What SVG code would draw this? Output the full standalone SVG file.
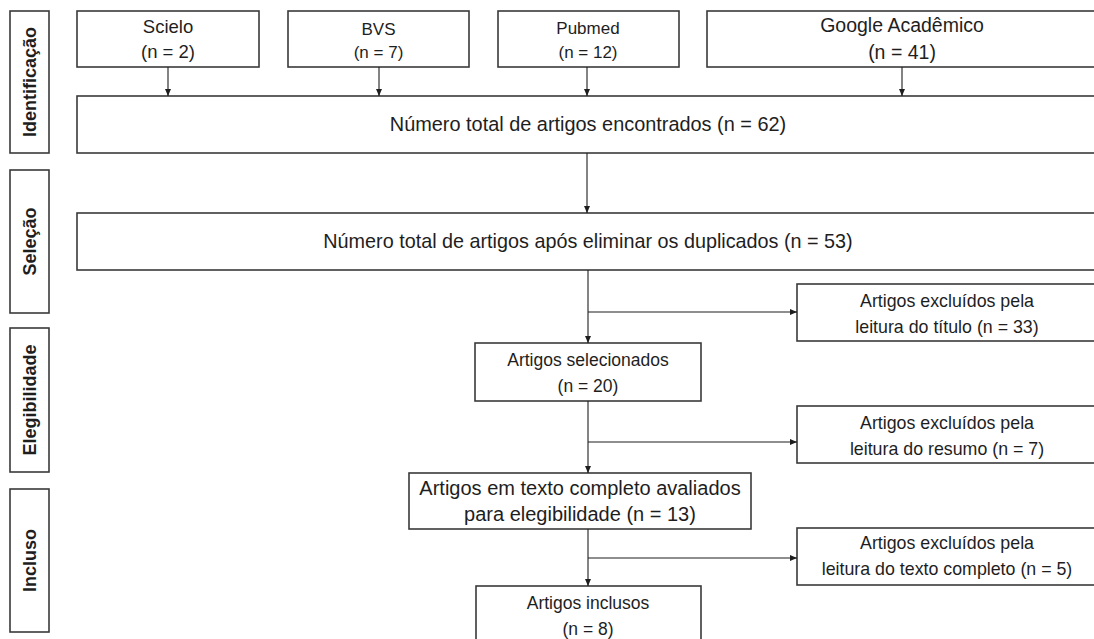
<svg xmlns="http://www.w3.org/2000/svg" width="1094" height="639" viewBox="0 0 1094 639">
<style>
.box{fill:#fff;stroke:#3a3a3a;stroke-width:1.6}
.t{font-family:"Liberation Sans",Arial,sans-serif;fill:#1e1e1e;text-anchor:middle}
.lbl{font-family:"Liberation Sans",Arial,sans-serif;font-weight:bold;fill:#1e1e1e;text-anchor:middle;font-size:18px}
.c{stroke:#1e1e1e;stroke-width:1.1;fill:none}
</style>
<defs>
<marker id="ah" markerWidth="7" markerHeight="6" refX="7" refY="3" orient="auto" markerUnits="userSpaceOnUse">
<path d="M0,0 L7,3 L0,6 z" fill="#1e1e1e"/>
</marker>
</defs>
<rect width="1094" height="639" fill="#fff"/>

<g id="phase-identificacao"><rect class="box" x="10" y="11" width="39" height="142"/><text class="lbl" transform="translate(36,82) rotate(-90)">Identificação</text></g>
<g id="phase-selecao"><rect class="box" x="10" y="170" width="39" height="143"/><text class="lbl" transform="translate(36,241.5) rotate(-90)">Seleção</text></g>
<g id="phase-elegibilidade"><rect class="box" x="10" y="328" width="39" height="144"/><text class="lbl" transform="translate(36,400) rotate(-90)">Elegibilidade</text></g>
<g id="phase-incluso"><rect class="box" x="10" y="489" width="39" height="143"/><text class="lbl" transform="translate(36,560.5) rotate(-90)">Incluso</text></g>

<g id="scielo"><rect class="box" x="77" y="11" width="182" height="56"/><text class="t" font-size="18.5" x="168" y="33">Scielo</text><text class="t" font-size="18.5" x="168" y="58">(n = 2)</text></g>
<g id="bvs"><rect class="box" x="288" y="11" width="181" height="56"/><text class="t" font-size="17" x="378.5" y="35">BVS</text><text class="t" font-size="17" x="378.5" y="58">(n = 7)</text></g>
<g id="pubmed"><rect class="box" x="498" y="11" width="181" height="56"/><text class="t" font-size="17" x="588" y="34">Pubmed</text><text class="t" font-size="17" x="588" y="58">(n = 12)</text></g>
<g id="google"><rect class="box" x="707" y="11" width="390" height="56"/><text class="t" font-size="19.5" x="902" y="32">Google Acadêmico</text><text class="t" font-size="19.5" x="902" y="59">(n = 41)</text></g>

<g id="total"><rect class="box" x="77" y="96" width="1100" height="57"/><text class="t" font-size="19.9" x="588" y="131">Número total de artigos encontrados (n = 62)</text></g>
<g id="sem-duplicados"><rect class="box" x="77" y="213" width="1100" height="57"/><text class="t" font-size="19.8" x="588" y="248">Número total de artigos após eliminar os duplicados (n = 53)</text></g>

<g id="excl-titulo"><rect class="box" x="797" y="284" width="400" height="57"/><text class="t" font-size="17.8" x="947" y="306.5">Artigos excluídos pela</text><text class="t" font-size="17.8" x="947" y="332.5">leitura do título (n = 33)</text></g>
<g id="selecionados"><rect class="box" x="475" y="343" width="226" height="58"/><text class="t" font-size="17.5" x="588" y="366">Artigos selecionados</text><text class="t" font-size="17.5" x="588" y="392">(n = 20)</text></g>
<g id="excl-resumo"><rect class="box" x="797" y="406" width="400" height="57"/><text class="t" font-size="17.8" x="947" y="429">Artigos excluídos pela</text><text class="t" font-size="17.8" x="947" y="455">leitura do resumo (n = 7)</text></g>
<g id="texto-completo"><rect class="box" x="409" y="473" width="342" height="56"/><text class="t" font-size="20" x="580" y="495">Artigos em texto completo avaliados</text><text class="t" font-size="20" x="580" y="521">para elegibilidade (n = 13)</text></g>
<g id="excl-texto"><rect class="box" x="797" y="528" width="400" height="57"/><text class="t" font-size="17.8" x="947" y="549">Artigos excluídos pela</text><text class="t" font-size="17.8" x="947" y="575">leitura do texto completo (n = 5)</text></g>
<g id="inclusos"><rect class="box" x="476" y="586" width="225" height="70"/><text class="t" font-size="17.5" x="588" y="609">Artigos inclusos</text><text class="t" font-size="17.5" x="588" y="635">(n = 8)</text></g>

<g id="connectors">
<line class="c" x1="168" y1="67" x2="168" y2="96" marker-end="url(#ah)"/>
<line class="c" x1="379" y1="67" x2="379" y2="96" marker-end="url(#ah)"/>
<line class="c" x1="587" y1="67" x2="587" y2="96" marker-end="url(#ah)"/>
<line class="c" x1="902" y1="67" x2="902" y2="96" marker-end="url(#ah)"/>
<line class="c" x1="587" y1="153" x2="587" y2="213" marker-end="url(#ah)"/>
<line class="c" x1="588" y1="270" x2="588" y2="343" marker-end="url(#ah)"/>
<line class="c" x1="588" y1="312" x2="797" y2="312" marker-end="url(#ah)"/>
<line class="c" x1="588" y1="401" x2="588" y2="473" marker-end="url(#ah)"/>
<line class="c" x1="588" y1="442" x2="797" y2="442" marker-end="url(#ah)"/>
<line class="c" x1="588" y1="529" x2="588" y2="586" marker-end="url(#ah)"/>
<line class="c" x1="588" y1="558" x2="797" y2="558" marker-end="url(#ah)"/>
</g>
</svg>
